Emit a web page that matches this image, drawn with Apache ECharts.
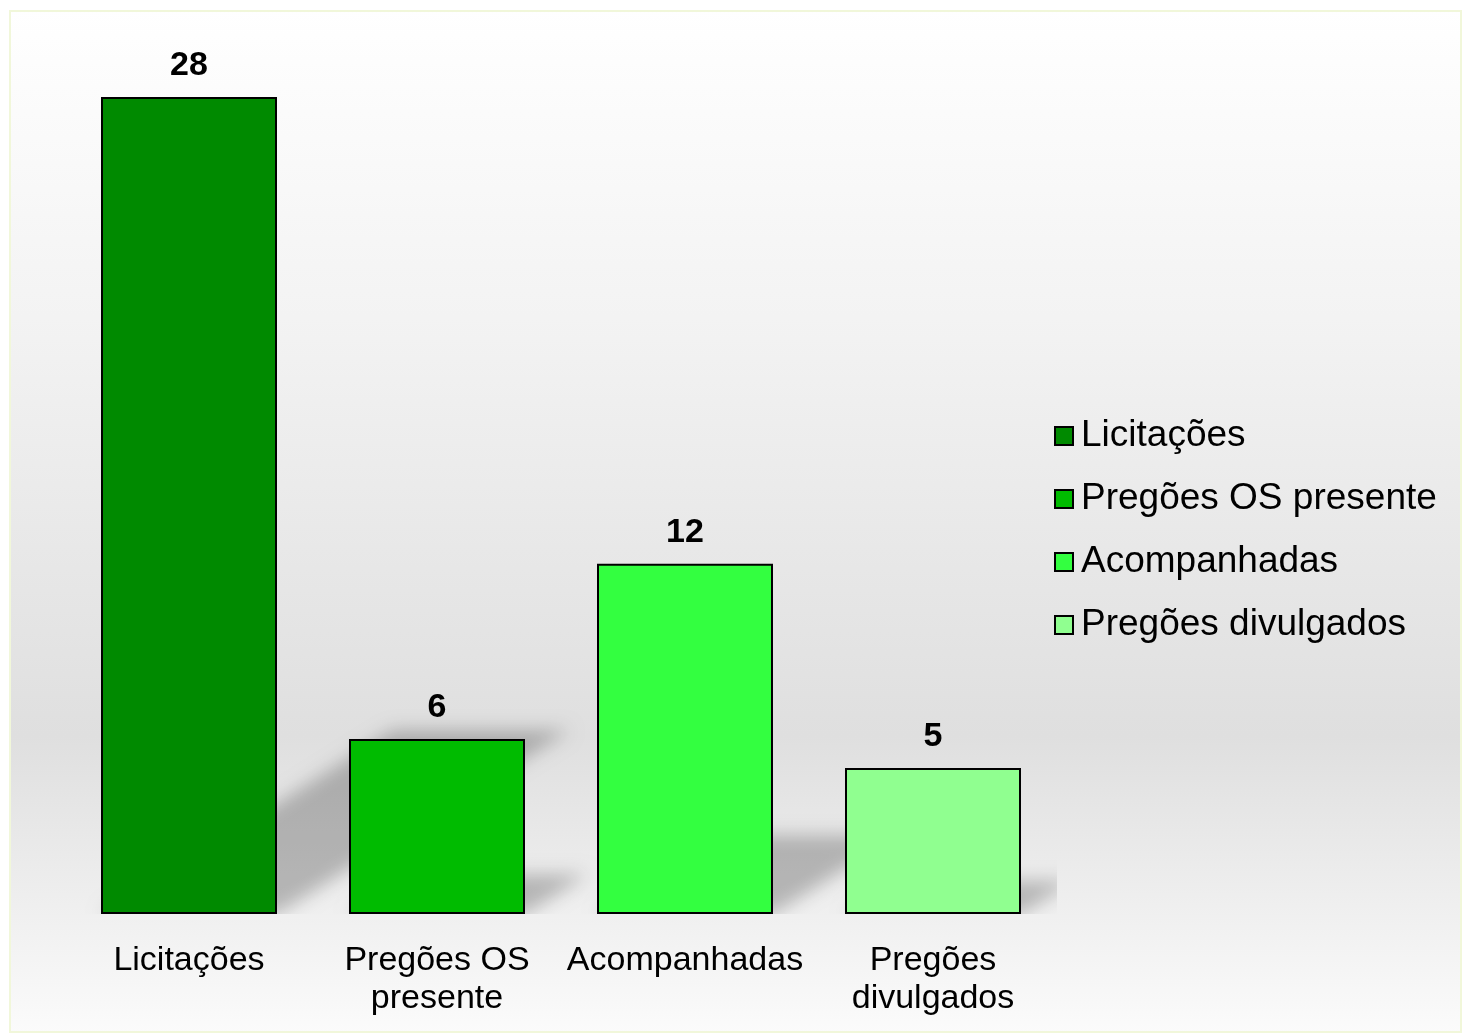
<!DOCTYPE html>
<html>
<head>
<meta charset="utf-8">
<script src="https://cdn.jsdelivr.net/npm/echarts@6/dist/echarts.min.js"></script>
<style>
html,body{margin:0;padding:0;background:#fff;}
#c{width:1462px;height:1033px;}
</style>
</head>
<body>
<div id="c"></div>
<script>
const categories = ['Licitações', 'Pregões OS\npresente', 'Acompanhadas', 'Pregões\ndivulgados'];
const seriesNames = ['Licitações', 'Pregões OS presente', 'Acompanhadas', 'Pregões divulgados'];
const values = [28, 6, 12, 5];
const colors = ['#008a00', '#00bb00', '#33ff40', '#90ff90'];

const FONT = '"Liberation Sans", Arial, Helvetica, sans-serif';
const chart = echarts.init(document.getElementById('c'));

const barSeries = seriesNames.map((name, i) => ({
  name: name,
  type: 'bar',
  stack: 'all',
  barWidth: 176,
  z: 5,
  data: values.map((v, j) => (j === i ? v : null)),
  itemStyle: { color: colors[i], borderColor: '#000', borderWidth: 2 },
  label: {
    show: true, position: 'top', distance: 14,
    fontFamily: FONT, fontSize: 34, fontWeight: 'bold', color: '#000'
  }
}));

const OFF = 3000;
const shadowSeries = {
  name: 'sombra',
  type: 'custom',
  clip: true,
  z: 1,
  silent: true,
  data: values.map((v, j) => [j, v]),
  renderItem: function (params, api) {
    const idx = api.value(0);
    const v = api.value(1);
    const base = api.coord([idx, 0]);
    const top = api.coord([idx, v]);
    const h = base[1] - top[1];
    const hs = h * 0.225;
    const dx = hs * 1.59;
    const half = 88;
    const pts = [
      [base[0] - half - OFF, base[1]],
      [base[0] + half - OFF, base[1]],
      [base[0] + half + dx - OFF, base[1] - hs],
      [base[0] - half + dx - OFF, base[1] - hs]
    ];
    return {
      type: 'polygon',
      shape: { points: pts },
      style: {
        fill: '#000',
        shadowBlur: 18,
        shadowOffsetX: OFF,
        shadowOffsetY: 0,
        shadowColor: 'rgba(0,0,0,0.24)'
      }
    };
  }
};

chart.setOption({
  animation: false,
  graphic: [{
    type: 'rect',
    z: -10,
    silent: true,
    shape: { x: 10, y: 11, width: 1451, height: 1021 },
    style: {
      fill: new echarts.graphic.LinearGradient(0, 0, 0, 1, [
        { offset: 0, color: '#ffffff' },
        { offset: 0.3, color: '#f3f3f3' },
        { offset: 0.71, color: '#dfdfdf' },
        { offset: 1, color: '#fbfbfb' }
      ]),
      stroke: '#f1f7da',
      lineWidth: 2
    }
  }],
  grid: { left: 65, right: 405, top: 97, bottom: 119, containLabel: false },
  legend: {
    orient: 'vertical',
    left: 1049,
    top: 411,
    itemWidth: 18,
    itemHeight: 18,
    itemGap: 23,
    icon: 'rect',
    data: seriesNames,
    itemStyle: { borderColor: '#000', borderWidth: 2 },
    textStyle: { fontFamily: FONT, fontSize: 37, lineHeight: 40, color: '#000', padding: [0, 0, 0, 3] }
  },
  xAxis: {
    type: 'category',
    data: categories,
    axisLine: { show: false },
    axisTick: { show: false },
    axisLabel: {
      interval: 0,
      margin: 28,
      fontFamily: FONT, fontSize: 34, lineHeight: 38, color: '#000'
    }
  },
  yAxis: {
    type: 'value',
    min: 0, max: 28,
    show: false,
    splitLine: { show: false }
  },
  series: [shadowSeries].concat(barSeries)
});
</script>
</body>
</html>
